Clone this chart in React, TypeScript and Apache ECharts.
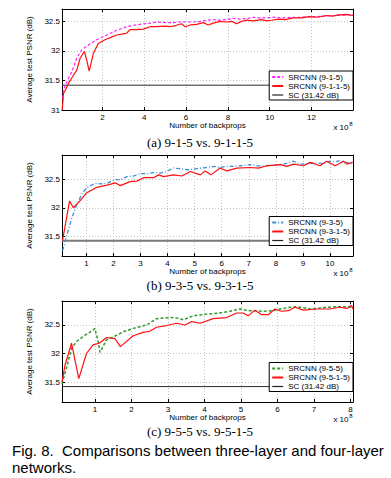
import React, { useEffect, useRef } from "react";
import * as echarts from "echarts";

// ---------- data (x in units of 1e8 backprops, y = PSNR in dB) ----------
const SC_PSNR = 31.42;

// (a) 9-1-5 vs 9-1-1-5
const aX_915 = [0.09, 0.14, 0.3, 0.54, 0.78, 1.02, 1.33, 1.73, 2.21, 2.69, 3.17, 3.6, 3.96, 4.3, 4.6, 5.0, 5.39, 5.7, 6.03, 6.35, 6.66, 7.0, 7.3, 7.6, 7.94, 8.25, 8.57, 8.9, 9.21, 9.5, 9.85, 10.2, 10.64, 11.0, 11.44, 11.8, 12.23, 12.6, 13.03, 13.4, 13.7, 13.98];
const aY_915 = [31.2, 31.34, 31.48, 31.65, 31.88, 32.02, 32.1, 32.19, 32.27, 32.35, 32.41, 32.44, 32.46, 32.47, 32.49, 32.48, 32.48, 32.49, 32.49, 32.49, 32.5, 32.52, 32.53, 32.52, 32.53, 32.55, 32.54, 32.55, 32.57, 32.56, 32.56, 32.57, 32.56, 32.57, 32.57, 32.58, 32.58, 32.59, 32.6, 32.6, 32.61, 32.61];
const aX_9115 = [0.08, 0.14, 0.25, 0.38, 0.55, 0.78, 0.94, 1.14, 1.25, 1.37, 1.57, 1.81, 2.13, 2.4, 2.69, 3.0, 3.16, 3.32, 3.6, 3.96, 4.28, 4.6, 5.0, 5.23, 5.5, 5.79, 5.95, 6.2, 6.5, 6.82, 7.06, 7.3, 7.62, 7.9, 8.18, 8.42, 8.65, 8.89, 9.2, 9.61, 9.85, 10.09, 10.4, 10.75, 11.12, 11.5, 11.91, 12.3, 12.71, 13.0, 13.3, 13.67, 13.98];
const aY_9115 = [31.0, 31.28, 31.35, 31.45, 31.55, 31.68, 31.88, 31.99, 31.85, 31.66, 31.96, 32.13, 32.19, 32.23, 32.27, 32.29, 32.3, 32.36, 32.36, 32.37, 32.41, 32.41, 32.42, 32.41, 32.43, 32.46, 32.41, 32.44, 32.45, 32.48, 32.44, 32.47, 32.5, 32.49, 32.5, 32.46, 32.5, 32.52, 32.51, 32.53, 32.51, 32.52, 32.54, 32.53, 32.56, 32.56, 32.58, 32.57, 32.6, 32.59, 32.61, 32.62, 32.6];

// (b) 9-3-5 vs 9-3-1-5
const bX_935 = [0.12, 0.29, 0.47, 0.66, 0.84, 1.03, 1.33, 1.52, 1.76, 2.07, 2.25, 2.5, 2.75, 2.99, 3.25, 3.48, 3.73, 3.95, 4.22, 4.45, 4.72, 4.95, 5.21, 5.45, 5.7, 5.95, 6.19, 6.45, 6.68, 7.05, 7.3, 7.54, 7.8, 8.04, 8.3, 8.65, 8.9, 9.2, 9.51, 9.75, 10.0, 10.2, 10.37, 10.6, 10.84];
const bY_935 = [31.24, 31.54, 31.83, 32.07, 32.25, 32.36, 32.43, 32.42, 32.43, 32.5, 32.49, 32.55, 32.56, 32.6, 32.6, 32.62, 32.61, 32.64, 32.7, 32.69, 32.67, 32.68, 32.7, 32.71, 32.73, 32.71, 32.73, 32.73, 32.74, 32.76, 32.74, 32.74, 32.75, 32.76, 32.77, 32.82, 32.77, 32.78, 32.79, 32.78, 32.82, 32.81, 32.83, 32.8, 32.79];
const bX_9315 = [0.12, 0.38, 0.52, 0.78, 1.0, 1.39, 1.76, 2.07, 2.25, 2.62, 2.87, 3.11, 3.48, 3.67, 3.85, 4.22, 4.53, 4.84, 5.21, 5.39, 5.6, 5.94, 6.19, 6.56, 7.05, 7.36, 7.67, 8.16, 8.41, 8.65, 9.02, 9.27, 9.63, 9.88, 10.19, 10.5, 10.62, 10.84];
const bY_9315 = [31.42, 32.12, 32.0, 32.13, 32.26, 32.36, 32.4, 32.44, 32.39, 32.46, 32.47, 32.53, 32.53, 32.58, 32.55, 32.58, 32.56, 32.64, 32.58, 32.65, 32.58, 32.7, 32.65, 32.7, 32.71, 32.7, 32.74, 32.76, 32.73, 32.77, 32.74, 32.8, 32.74, 32.82, 32.74, 32.82, 32.77, 32.8];

// (c) 9-5-5 vs 9-5-1-5
const cX_955 = [0.1, 0.22, 0.36, 0.5, 0.73, 0.95, 1.0, 1.09, 1.14, 1.32, 1.5, 1.78, 2.05, 2.42, 2.69, 3.05, 3.25, 3.42, 3.69, 4.06, 4.42, 4.7, 4.97, 5.25, 5.61, 5.88, 6.07, 6.34, 6.53, 6.89, 7.1, 7.35, 7.71, 8.03];
const cY_955 = [31.47, 31.74, 32.09, 32.21, 32.32, 32.41, 32.44, 32.21, 32.02, 32.24, 32.29, 32.38, 32.44, 32.5, 32.61, 32.63, 32.62, 32.59, 32.66, 32.69, 32.71, 32.74, 32.78, 32.75, 32.74, 32.75, 32.78, 32.81, 32.82, 32.78, 32.79, 32.81, 32.82, 32.81];
const cX_9515 = [0.1, 0.18, 0.36, 0.56, 0.77, 0.95, 1.12, 1.32, 1.55, 1.7, 2.05, 2.32, 2.5, 2.69, 2.96, 3.24, 3.47, 3.65, 3.88, 4.24, 4.61, 4.88, 5.06, 5.2, 5.38, 5.57, 5.75, 5.93, 6.11, 6.3, 6.48, 6.71, 7.07, 7.44, 7.71, 7.9, 8.03, 8.07];
const cY_9515 = [31.5, 31.79, 32.18, 31.56, 32.0, 32.15, 32.18, 32.28, 32.26, 32.12, 32.31, 32.37, 32.39, 32.46, 32.49, 32.53, 32.5, 32.56, 32.53, 32.61, 32.63, 32.71, 32.71, 32.66, 32.76, 32.68, 32.68, 32.78, 32.74, 32.75, 32.81, 32.76, 32.78, 32.78, 32.81, 32.79, 32.84, 32.78];

// axis ranges and ticks
const aXRange = [0.07, 13.98];
const bXRange = [0.1, 10.85];
const cXRange = [0.1, 8.07];
const aYRange = [31, 32.71];
const bYRange = [31.15, 32.93];
const cYRange = [31.15, 32.92];
const aXTicks = [2, 4, 6, 8, 10, 12];
const bXTicks = [1, 2, 3, 4, 5, 6, 7, 8, 9, 10];
const cXTicks = [1, 2, 3, 4, 5, 6, 7, 8];
const aYTicks = [31, 31.5, 32, 32.5];
const bYTicks = [31.5, 32, 32.5];
const cYTicks = [31.5, 32, 32.5];

const captions = ["(a) 9-1-5 vs. 9-1-1-5", "(b) 9-3-5 vs. 9-3-1-5", "(c) 9-5-5 vs. 9-5-1-5"];
const figCaption1 = "Fig. 8.  Comparisons between three-layer and four-layer";
const figCaption2 = "networks.";
const xName = "Number of backprops";
const yName = "Average test PSNR (dB)";
const scName = "SC (31.42 dB)";

const FONT = '"Liberation Sans", Arial, Helvetica, sans-serif';
const SERIF = '"Liberation Serif", "Times New Roman", serif';

const zip = (xs: number[], ys: number[]) => xs.map((x, i) => [x, ys[i]]);

type Panel = {
  top: number;
  xr: number[];
  yr: number[];
  xt: number[];
  yt: number[];
  s1: { name: string; data: number[][]; color: string; dash: number[]; width: number };
  s2: { name: string; data: number[][] };
  scColor: string;
  scWidth: number;
  legendTop: number;
  capY: number;
  expY: number;
};

const panels: Panel[] = [
  {
    top: 9, xr: aXRange, yr: aYRange, xt: aXTicks, yt: aYTicks,
    s1: { name: "SRCNN (9-1-5)", data: zip(aX_915, aY_915), color: "#ff22ff", dash: [3, 2], width: 1.2 },
    s2: { name: "SRCNN (9-1-1-5)", data: zip(aX_9115, aY_9115) },
    scColor: "#2a2a2a", scWidth: 1, legendTop: 71, capY: 142, expY: 127,
  },
  {
    top: 155, xr: bXRange, yr: bYRange, xt: bXTicks, yt: bYTicks,
    s1: { name: "SRCNN (9-3-5)", data: zip(bX_935, bY_935), color: "#3f8fd6", dash: [4, 2, 1, 2], width: 1.3 },
    s2: { name: "SRCNN (9-3-1-5)", data: zip(bX_9315, bY_9315) },
    scColor: "#7a7a7a", scWidth: 2, legendTop: 216.5, capY: 285, expY: 273.3,
  },
  {
    top: 301, xr: cXRange, yr: cYRange, xt: cXTicks, yt: cYTicks,
    s1: { name: "SRCNN (9-5-5)", data: zip(cX_955, cY_955), color: "#33992f", dash: [3, 2], width: 1.5 },
    s2: { name: "SRCNN (9-5-1-5)", data: zip(cX_9515, cY_9515) },
    scColor: "#2a2a2a", scWidth: 1, legendTop: 362.5, capY: 431, expY: 419,
  },
];

const GRID_LEFT = 62;
const GRID_W = 291;
const GRID_H = 101;

function buildOption() {
  const grid: any[] = [];
  const xAxis: any[] = [];
  const yAxis: any[] = [];
  const series: any[] = [];
  const legend: any[] = [];
  const graphic: any[] = [];

  const labelStyle = { fontSize: 8, color: "#000", fontFamily: FONT };

  panels.forEach((p, i) => {
    grid.push({ left: GRID_LEFT, top: p.top, width: GRID_W, height: GRID_H, show: false });
    const axisLine = { show: true, onZero: false, lineStyle: { color: "#000", width: 1 } };
    const split = { show: true, lineStyle: { color: "#c2c2c2", width: 1, type: [1, 2] } };
    xAxis.push({
      type: "value", gridIndex: i, min: p.xr[0], max: p.xr[1], position: "bottom",
      axisLine,
      axisTick: { show: true, inside: true, length: 3, customValues: p.xt, lineStyle: { color: "#000" } },
      axisLabel: { show: true, customValues: p.xt, margin: 3, ...labelStyle },
      splitLine: split,
      name: xName, nameLocation: "middle", nameGap: 9,
      nameTextStyle: { ...labelStyle },
    });
    xAxis.push({
      type: "value", gridIndex: i, min: p.xr[0], max: p.xr[1], position: "top",
      axisLine,
      axisTick: { show: true, inside: true, length: 3, customValues: p.xt, lineStyle: { color: "#000" } },
      axisLabel: { show: false },
      splitLine: { show: false },
    });
    yAxis.push({
      type: "value", gridIndex: i, min: p.yr[0], max: p.yr[1], position: "left",
      axisLine,
      axisTick: { show: true, inside: true, length: 3, customValues: p.yt, lineStyle: { color: "#000" } },
      axisLabel: { show: true, customValues: p.yt, margin: 2, ...labelStyle },
      splitLine: split,
      name: yName, nameLocation: "middle", nameGap: 15,
      nameTextStyle: { ...labelStyle },
    });
    yAxis.push({
      type: "value", gridIndex: i, min: p.yr[0], max: p.yr[1], position: "right",
      axisLine,
      axisTick: { show: true, inside: true, length: 3, customValues: p.yt, lineStyle: { color: "#000" } },
      axisLabel: { show: false },
      splitLine: { show: false },
    });

    const xi = 2 * i;
    const yi = 2 * i;
    series.push({
      type: "line", name: scName, xAxisIndex: xi, yAxisIndex: yi,
      data: [[p.xr[0], SC_PSNR], [p.xr[1], SC_PSNR]],
      symbol: "none", showSymbol: false, silent: true, z: 2,
      lineStyle: { color: p.scColor, width: p.scWidth },
      itemStyle: { color: p.scColor },
    });
    series.push({
      type: "line", name: p.s1.name, xAxisIndex: xi, yAxisIndex: yi, data: p.s1.data,
      symbol: "none", showSymbol: false, z: 3,
      lineStyle: { color: p.s1.color, width: p.s1.width, type: p.s1.dash },
      itemStyle: { color: p.s1.color },
    });
    series.push({
      type: "line", name: p.s2.name, xAxisIndex: xi, yAxisIndex: yi, data: p.s2.data,
      symbol: "none", showSymbol: false, z: 4,
      lineStyle: { color: "#ff1010", width: 1.2 },
      itemStyle: { color: "#ff1010" },
    });

    const hidden = { opacity: 0, borderWidth: 0 };
    legend.push({
      orient: "vertical", right: 391 - (GRID_LEFT + GRID_W), top: p.legendTop,
      itemWidth: 11, itemHeight: 8, itemGap: 1,
      padding: [2, 3, 1, 2],
      borderColor: "#000", borderWidth: 1, backgroundColor: "#fff",
      textStyle: { ...labelStyle },
      selectedMode: false,
      itemStyle: hidden,
      data: [
        { name: p.s1.name, itemStyle: hidden },
        { name: p.s2.name, itemStyle: hidden },
        { name: scName, lineStyle: { color: "#222", width: 1.2 }, itemStyle: hidden },
      ],
    });

    graphic.push({
      type: "text", x: 200, y: p.capY,
      style: { text: captions[i], font: `13px ${SERIF}`, fill: "#000", align: "center", verticalAlign: "middle" },
    });
    graphic.push({
      type: "text", x: 348.5, y: p.expY,
      style: { text: "x 10", font: `8px ${FONT}`, fill: "#000", align: "right", verticalAlign: "middle" },
    });
    graphic.push({
      type: "text", x: 349.3, y: p.expY - 3.5,
      style: { text: "8", font: `6px ${FONT}`, fill: "#000", align: "left", verticalAlign: "middle" },
    });
  });

  graphic.push({
    type: "text", x: 12, y: 450,
    style: { text: figCaption1, font: `15px ${FONT}`, fill: "#000", align: "left", verticalAlign: "middle" },
  });
  graphic.push({
    type: "text", x: 12, y: 467.7,
    style: { text: figCaption2, font: `15px ${FONT}`, fill: "#000", align: "left", verticalAlign: "middle" },
  });

  return {
    animation: false,
    backgroundColor: "#fff",
    grid, xAxis, yAxis, series, legend, graphic,
  };
}

export default function App() {
  const ref = useRef<HTMLDivElement>(null);
  useEffect(() => {
    if (!ref.current) return;
    const chart = echarts.init(ref.current, undefined, { renderer: "svg" });
    chart.setOption(buildOption() as any);
    return () => chart.dispose();
  }, []);
  return (
    <div
      ref={ref}
      style={{ position: "fixed", left: 0, top: 0, width: 391, height: 478, background: "#fff" }}
    />
  );
}
